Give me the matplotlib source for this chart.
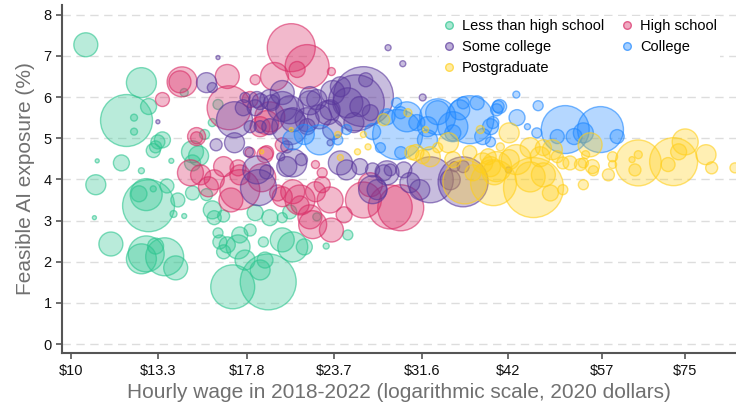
import matplotlib
matplotlib.use('Agg')
import matplotlib.pyplot as plt
from matplotlib.lines import Line2D
from matplotlib.colors import to_rgba
import numpy as np

plt.rcParams['font.family'] = ['Liberation Sans', 'DejaVu Sans']

# ---------------- data (wage $, AI exposure %, workers) ----------------
groups = ['Less than high school', 'High school', 'Some college', 'College', 'Postgraduate']

lths_wage = [10.5, 12.6, 12.0, 12.9, 12.3, 12.3, 13.3, 13.5, 13.2, 13.1, 11.8, 12.6, 10.9, 10.85, 13.9,
             12.9, 12.8, 12.5, 13.7, 14.2, 14.0, 14.5, 13.1, 10.8, 11.4, 12.8, 12.6, 13.6, 13.2, 14.1,
             14.9, 15.2, 14.9, 15.5, 15.9, 14.9, 15.6, 15.9, 16.0, 16.5, 16.2, 16.3, 16.7, 16.5, 17.3,
             17.4, 17.0, 19.1, 18.3, 19.2, 20.0, 20.5, 18.8, 20.0, 20.7, 21.5, 18.6, 18.9, 24.8, 23.1,
             22.4, 17.7, 18.0, 16.2, 14.5]
lths_expo = [7.27, 6.35, 5.43, 5.77, 5.50, 5.16, 4.91, 4.96, 4.79, 4.70, 4.40, 4.21, 4.45, 3.87, 4.45,
             3.36, 3.63, 3.65, 3.84, 3.50, 3.16, 3.11, 3.77, 3.07, 2.43, 2.19, 2.07, 2.12, 2.38, 1.85,
             4.67, 4.57, 4.40, 5.09, 5.38, 3.67, 3.63, 3.26, 3.07, 3.11, 2.70, 2.48, 2.41, 2.24, 2.36,
             2.65, 1.39, 1.51, 3.19, 3.07, 3.07, 3.21, 2.48, 2.53, 2.36, 2.36, 1.80, 2.04, 2.65, 2.38,
             3.09, 2.04, 2.77, 5.82, 6.11]
lths_workers = [144, 225, 676, 64, 12, 12, 49, 64, 36, 49, 64, 9, 4, 100, 6,
                676, 256, 64, 49, 49, 12, 6, 9, 4, 144, 324, 225, 361, 64, 144,
                121, 100, 64, 25, 16, 49, 36, 81, 49, 36, 25, 49, 64, 49, 144,
                64, 484, 784, 64, 64, 25, 49, 25, 144, 225, 64, 100, 64, 25, 9,
                16, 100, 36, 25, 16]

hs_points = [(14.4, 6.37, 225), (14.3, 6.37, 121), (13.5, 5.94, 49), (20.6, 7.20, 576), (21.7, 6.74, 484),
             (16.8, 5.74, 484), (19.5, 6.50, 196), (16.7, 6.50, 144), (18.3, 6.42, 25), (21.0, 6.67, 64),
             (19.0, 5.38, 144), (18.6, 5.28, 100), (20.0, 4.84, 49), (18.0, 4.65, 25), (19.0, 4.65, 49),
             (22.3, 4.36, 16), (22.8, 4.16, 25), (16.5, 4.31, 100), (17.3, 4.28, 64), (15.3, 4.11, 100),
             (15.1, 5.01, 36), (15.1, 5.04, 81), (14.8, 4.16, 169), (17.4, 4.11, 100), (16.0, 3.99, 100),
             (17.4, 3.75, 400), (18.7, 4.04, 196), (16.9, 3.50, 144), (15.7, 3.82, 100), (20.0, 3.58, 100),
             (21.2, 3.38, 81), (22.1, 2.90, 196), (21.9, 3.09, 144), (23.5, 2.77, 144), (21.2, 3.50, 225),
             (20.7, 3.70, 144), (22.3, 3.70, 100), (19.7, 3.67, 64), (28.5, 3.33, 484), (29.5, 3.31, 529),
             (26.1, 3.50, 324), (26.7, 3.87, 144), (23.4, 3.50, 169), (22.8, 3.87, 64), (23.5, 6.62, 16),
             (18.9, 4.60, 64), (24.5, 3.14, 64), (19.2, 5.52, 225), (18.0, 5.94, 64)]

sc_points = [(26.1, 6.01, 900), (25.5, 5.86, 784), (26.3, 6.42, 49), (15.6, 6.35, 100), (17.1, 5.45, 324),
             (15.9, 6.23, 25), (28.3, 7.20, 9), (29.7, 6.81, 9), (31.7, 5.99, 12), (16.2, 6.96, 4),
             (13.3, 5.40, 4), (20.0, 6.11, 144), (18.6, 5.89, 64), (19.3, 5.86, 64), (20.5, 5.69, 196),
             (21.9, 5.86, 144), (22.4, 5.94, 100), (20.5, 5.28, 324), (21.7, 5.45, 144), (23.2, 5.62, 144),
             (17.1, 4.89, 100), (16.1, 4.84, 36), (17.9, 4.67, 25), (18.3, 5.74, 64), (17.6, 5.74, 64),
             (17.7, 5.99, 25), (19.9, 4.55, 16), (20.3, 4.31, 100), (21.3, 4.48, 36), (19.0, 4.18, 49),
             (18.5, 3.80, 324), (18.4, 4.23, 196), (20.7, 4.40, 196), (24.2, 4.40, 144), (24.7, 4.23, 100),
             (25.8, 4.31, 64), (26.9, 4.23, 49), (27.9, 4.16, 64), (28.5, 4.23, 36), (32.5, 3.99, 529),
             (27.3, 3.75, 100), (28.2, 4.16, 144), (26.9, 3.75, 196), (29.8, 4.23, 64), (30.4, 3.92, 100),
             (34.7, 3.99, 100), (31.4, 3.75, 100), (36.2, 3.94, 625), (23.6, 6.11, 144), (24.2, 6.25, 100),
             (24.8, 5.86, 225), (25.8, 5.77, 100), (25.3, 5.38, 100), (26.7, 5.62, 64), (21.9, 6.01, 100),
             (20.0, 5.77, 225), (19.2, 5.94, 100), (18.4, 5.94, 64), (20.7, 5.45, 144), (22.6, 5.52, 144),
             (23.4, 5.69, 100), (23.6, 5.21, 100), (21.7, 5.28, 64), (19.2, 5.28, 64), (20.3, 4.79, 36),
             (18.6, 5.28, 36), (18.0, 5.28, 36), (36.2, 4.31, 36), (42.0, 4.23, 9), (35.2, 4.31, 25),
             (23.4, 4.89, 9)]

col_points = [(50.6, 5.21, 576), (56.8, 5.21, 529), (52.1, 5.04, 64), (49.3, 5.04, 49), (60.0, 5.04, 49),
              (40.8, 5.77, 49), (43.1, 6.06, 12), (46.3, 5.79, 25), (43.2, 5.50, 64), (44.7, 5.28, 9),
              (39.6, 5.28, 64), (37.0, 5.45, 576), (35.8, 5.69, 100), (40.6, 5.77, 36), (39.9, 5.38, 36),
              (46.1, 5.13, 25), (39.6, 4.91, 25), (30.1, 5.52, 225), (29.2, 5.09, 625), (33.3, 5.52, 324),
              (32.2, 5.28, 100), (35.0, 5.28, 225), (28.2, 5.52, 64), (29.5, 5.62, 36), (26.9, 5.16, 64),
              (29.5, 4.65, 36), (27.6, 4.77, 25), (29.1, 5.86, 25), (31.1, 5.38, 64), (22.6, 4.96, 225),
              (21.5, 5.09, 100), (24.7, 5.21, 25), (33.3, 5.62, 144), (32.2, 4.96, 100), (35.0, 5.13, 64),
              (38.6, 5.04, 64), (40.4, 5.69, 36), (37.9, 5.86, 49), (36.2, 5.86, 36), (20.7, 4.96, 100),
              (24.0, 4.96, 25), (53.7, 5.13, 100)]

pg_points = [(64.3, 4.40, 529), (72.2, 4.43, 576), (75.0, 4.91, 169), (80.3, 4.60, 100), (81.8, 4.28, 36),
             (88.3, 4.28, 25), (63.6, 4.23, 36), (63.0, 4.48, 9), (64.3, 4.60, 16), (70.9, 4.36, 49),
             (73.4, 4.67, 64), (59.1, 4.55, 25), (59.1, 4.36, 16), (58.3, 4.11, 36), (55.3, 4.31, 49),
             (55.5, 4.21, 25), (53.7, 4.40, 25), (53.7, 3.87, 25), (54.1, 4.60, 16), (54.9, 4.84, 144),
             (40.0, 3.92, 529), (45.6, 3.80, 900), (45.1, 4.06, 225), (47.1, 4.11, 144), (42.1, 4.48, 100),
             (43.1, 4.48, 225), (45.1, 4.77, 100), (47.1, 4.77, 64), (42.1, 5.13, 100), (38.3, 5.21, 16),
             (39.3, 4.55, 64), (39.6, 4.31, 100), (37.4, 4.16, 64), (40.9, 4.79, 16), (49.3, 4.55, 36),
             (50.2, 4.40, 36), (51.4, 4.40, 49), (50.2, 3.75, 25), (48.2, 3.67, 64), (46.6, 4.55, 100),
             (48.5, 4.72, 100), (53.2, 4.36, 36), (27.9, 5.45, 36), (30.2, 5.62, 16), (32.0, 5.21, 9),
             (24.0, 5.09, 9), (26.1, 5.09, 9), (26.5, 4.79, 9), (31.0, 4.65, 64), (33.3, 4.77, 25),
             (34.5, 4.89, 100), (35.0, 4.48, 64), (25.6, 4.67, 9), (24.2, 4.53, 9), (30.6, 4.65, 49),
             (31.7, 4.55, 49), (37.0, 4.65, 49), (38.6, 4.40, 100), (40.1, 4.16, 144), (40.4, 4.31, 225),
             (32.5, 4.55, 100), (20.6, 5.21, 4), (18.7, 4.67, 4), (36.4, 3.94, 484)]

xtick_values = [10, 13.3, 17.8, 23.7, 31.6, 42, 57, 75]
xtick_labels = ['$10', '$13.3', '$17.8', '$23.7', '$31.6', '$42', '$57', '$75']
ytick_values = [0, 1, 2, 3, 4, 5, 6, 7, 8]

# ---------------- styling ----------------
colors = {
    'Less than high school': '#2cc58f',
    'High school': '#d92c66',
    'Some college': '#5a389c',
    'College': '#1f88ff',
    'Postgraduate': '#ffcf1a',
}
SIZE_SCALE = 2.07

series = {
    'Less than high school': (lths_wage, lths_expo, lths_workers),
    'High school': tuple(map(list, zip(*hs_points))),
    'Some college': tuple(map(list, zip(*sc_points))),
    'College': tuple(map(list, zip(*col_points))),
    'Postgraduate': tuple(map(list, zip(*pg_points))),
}

fig = plt.figure(figsize=(7.36, 4.04), dpi=100)
ax = fig.add_axes([0.0842, 0.126, 0.9158, 0.862])

for g in groups:
    w, e, n = series[g]
    c = colors[g]
    ax.scatter(w, e, s=np.array(n) * SIZE_SCALE,
               facecolors=[to_rgba(c, 0.33)], edgecolors=[to_rgba(c, 0.6)],
               linewidths=1.0, zorder=3)

ax.set_xscale('log')
ax.set_xlim(9.71, 88.6)
ax.set_ylim(-0.22, 8.24)
ax.set_xticks(xtick_values)
ax.set_xticklabels(xtick_labels)
ax.xaxis.set_minor_locator(matplotlib.ticker.NullLocator())
ax.set_yticks(ytick_values)

for y in ytick_values:
    ax.axhline(y, color='#dddddd', lw=1.0, ls=(0, (6, 4)), zorder=1)

for s in ['top', 'right']:
    ax.spines[s].set_visible(False)
for s in ['left', 'bottom']:
    ax.spines[s].set_color('#555555')
    ax.spines[s].set_linewidth(1.5)
ax.tick_params(axis='both', colors='#555555', labelcolor='#111111', labelsize=10.5,
               length=4, width=1.2)

ax.set_xlabel('Hourly wage in 2018-2022 (logarithmic scale, 2020 dollars)',
              fontsize=15, color='#707070', labelpad=4)
ax.set_ylabel('Feasible AI exposure (%)', fontsize=15, color='#707070', labelpad=6)

order = ['Less than high school', 'Some college', 'Postgraduate', 'High school', 'College']
handles = [Line2D([0], [0], marker='o', ls='none', markersize=5.5,
                  markerfacecolor=to_rgba(colors[g], 0.4), markeredgecolor=to_rgba(colors[g], 0.7),
                  markeredgewidth=1.0, label=g) for g in order]
leg = ax.legend(handles=handles, ncol=2, loc='upper left', bbox_to_anchor=(0.5548, 0.977),
                frameon=True, fancybox=False, framealpha=1.0, facecolor='white', edgecolor='none',
                fontsize=10.5, handlelength=1.0, handletextpad=0.4, columnspacing=1.05,
                labelspacing=0.5, borderaxespad=0.2, borderpad=0.2)
leg.set_zorder(5)

fig.savefig('out.png', dpi=100)
